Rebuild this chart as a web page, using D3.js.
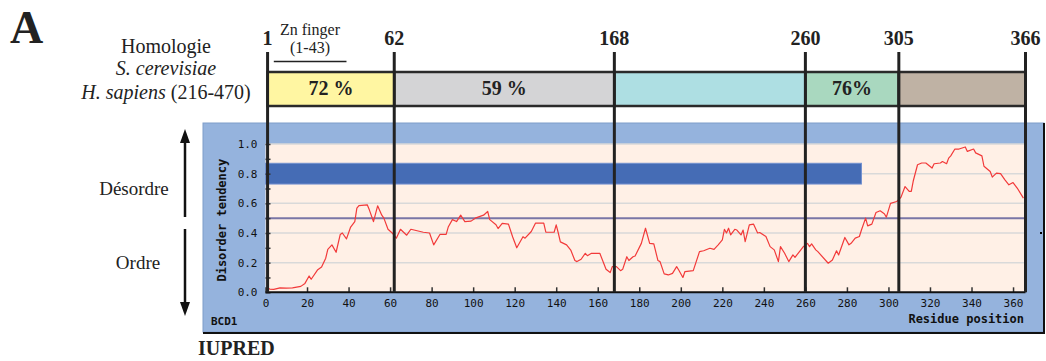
<!DOCTYPE html>
<html>
<head>
<meta charset="utf-8">
<script src="https://cdn.jsdelivr.net/npm/d3@7"></script>
<style>
  html, body { margin: 0; padding: 0; background: #fff; }
  svg { display: block; }
</style>
</head>
<body>
<div id="chart"></div>
<script>
// IUPred disorder profile
const residues = [1, 2, 4, 7, 10, 13, 17, 19, 21, 22, 25, 27, 29, 30, 32, 34, 36, 37, 39, 41,
  43, 44, 45, 49, 50, 52, 54, 56, 57, 59, 61, 63, 65, 68, 70, 76, 79, 81, 84, 87,
  88, 90, 92, 94, 96, 99, 101, 105, 107, 108, 111, 112, 114, 117, 119, 121, 124, 125, 128, 130,
  134, 135, 139, 140, 141, 142, 145, 147, 149, 150, 152, 154, 155, 157, 161, 164, 166, 167, 169, 171,
  172, 174, 175, 177, 178, 181, 183, 185, 187, 189, 190, 192, 194, 196, 198, 199, 201, 202, 206, 209,
  211, 214, 216, 218, 220, 221, 222, 223, 224, 226, 227, 229, 230, 231, 233, 235, 237, 238, 241, 243,
  245, 247, 248, 250, 252, 254, 255, 258, 259, 261, 262, 263, 265, 266, 271, 273, 275, 276, 279, 281,
  282, 284, 286, 287, 289, 290, 292, 294, 296, 298, 299, 301, 304, 306, 308, 310, 311, 312, 314, 316,
  318, 321, 322, 325, 326, 328, 329, 330, 332, 334, 337, 338, 341, 342, 345, 346, 349, 350, 352, 354,
  356, 358, 360, 362, 365];
const disorder = [0.03, 0.022, 0.02, 0.03, 0.028, 0.03, 0.04, 0.06, 0.11, 0.088, 0.15, 0.17, 0.23, 0.29, 0.32, 0.27, 0.39, 0.40, 0.36, 0.44,
  0.477, 0.567, 0.585, 0.59, 0.556, 0.477, 0.583, 0.52, 0.5, 0.425, 0.40, 0.365, 0.425, 0.385, 0.425, 0.405, 0.4, 0.32, 0.39, 0.39,
  0.44, 0.49, 0.477, 0.52, 0.477, 0.48, 0.5, 0.52, 0.545, 0.49, 0.455, 0.43, 0.465, 0.46, 0.375, 0.30, 0.375, 0.365, 0.41, 0.466,
  0.466, 0.405, 0.405, 0.455, 0.40, 0.34, 0.32, 0.285, 0.214, 0.207, 0.223, 0.263, 0.247, 0.263, 0.263, 0.155, 0.133, 0.173, 0.173, 0.146,
  0.155, 0.24, 0.214, 0.24, 0.245, 0.33, 0.432, 0.33, 0.326, 0.214, 0.207, 0.124, 0.117, 0.128, 0.173, 0.15, 0.10, 0.14, 0.146, 0.274,
  0.28, 0.297, 0.29, 0.32, 0.353, 0.425, 0.4, 0.432, 0.387, 0.425, 0.42, 0.387, 0.42, 0.342, 0.455, 0.46, 0.4, 0.403, 0.376, 0.308,
  0.286, 0.207, 0.308, 0.263, 0.207, 0.252, 0.236, 0.29, 0.308, 0.33, 0.308, 0.326, 0.286, 0.274, 0.196, 0.218, 0.28, 0.252, 0.37, 0.32,
  0.33, 0.365, 0.376, 0.42, 0.5, 0.448, 0.46, 0.538, 0.55, 0.53, 0.507, 0.6, 0.612, 0.64, 0.713, 0.68, 0.68, 0.754, 0.86, 0.872,
  0.872, 0.838, 0.867, 0.872, 0.882, 0.867, 0.905, 0.92, 0.966, 0.966, 0.98, 0.95, 0.966, 0.94, 0.92, 0.85, 0.815, 0.777, 0.804, 0.8,
  0.76, 0.725, 0.74, 0.703, 0.635];

// homology domains
const boundaries = [1, 62, 168, 260, 305, 366];
const homology = ["72 %", "59 %", "", "76%", ""];
const segColors = ["#fff6a2", "#d4d4d6", "#aedfe3", "#a9d8bf", "#bfb2a4"];

// blue bar (region 1-287, centred at 0.8) and threshold
const barRange = [1, 287];
const barValues = [0.73, 0.87];
const threshold = 0.5;

const xTicks = d3.range(0, 361, 20);
const yTicks = d3.range(0, 11).map(i => i / 10);
const yGrid = [0.2, 0.4, 0.6, 0.8, 1.0];

const width = 1046, height = 361;
const serif = "'Liberation Serif', 'Times New Roman', serif";
const mono = "'DejaVu Sans Mono', monospace";

const svg = d3.select("#chart").append("svg")
    .attr("width", width)
    .attr("height", height);

const x = d3.scaleLinear().domain([0, 366]).range([265.5, 1025.5]);
const y = d3.scaleLinear().domain([0, 1]).range([292.3, 144]);

// ---- IUPred panel ----
const panel = svg.append("g");
panel.append("rect")
    .attr("x", 203).attr("y", 123).attr("width", 841).attr("height", 209)
    .attr("fill", "#95b3dd").attr("stroke", "#7f9dca").attr("stroke-width", 1);
// dark edges right/bottom
panel.append("line").attr("x1", 1044).attr("x2", 1044).attr("y1", 123).attr("y2", 333)
    .attr("stroke", "#111").attr("stroke-width", 2);
panel.append("line").attr("x1", 203).attr("x2", 1045).attr("y1", 333).attr("y2", 333)
    .attr("stroke", "#111").attr("stroke-width", 2);

panel.append("rect")
    .attr("x", x(0)).attr("y", y(1))
    .attr("width", x(366) - x(0)).attr("height", y(0) - y(1))
    .attr("fill", "#fff0e6");

panel.selectAll(".grid").data(yGrid).enter().append("line")
    .attr("x1", x(0)).attr("x2", x(366))
    .attr("y1", d => y(d)).attr("y2", d => y(d))
    .attr("stroke", "#d9d9d9").attr("stroke-width", 1.5);

panel.append("rect")
    .attr("x", x(barRange[0] - 1)).attr("y", y(barValues[1]))
    .attr("width", x(barRange[1]) - x(barRange[0] - 1))
    .attr("height", y(barValues[0]) - y(barValues[1]))
    .attr("fill", "#456cb5").attr("stroke", "#7391cf").attr("stroke-width", 1);

panel.append("line")
    .attr("x1", x(0)).attr("x2", x(366))
    .attr("y1", y(threshold)).attr("y2", y(threshold))
    .attr("stroke", "#7a76a6").attr("stroke-width", 2);

const line = d3.line()
    .x((d, i) => x(residues[i]))
    .y(d => y(d));

panel.append("path")
    .datum(disorder)
    .attr("d", line)
    .attr("fill", "none")
    .attr("stroke", "#f23a3a")
    .attr("stroke-width", 1.2)
    .attr("stroke-linejoin", "round");

// axes
const xAxis = panel.append("g")
    .attr("transform", `translate(0,${y(0)})`)
    .call(d3.axisBottom(x).tickValues(xTicks).tickSizeInner(-5).tickSizeOuter(0).tickPadding(7));
const yAxis = panel.append("g")
    .attr("transform", `translate(${x(0)},0)`)
    .call(d3.axisLeft(y).tickValues(yTicks).tickSizeInner(-5).tickSizeOuter(0).tickPadding(8)
        .tickFormat(d => (Math.round(d * 10) % 2 === 0) ? d3.format(".1f")(d) : ""));
[xAxis, yAxis].forEach(a => {
    a.select(".domain").remove();
    a.selectAll(".tick line").attr("stroke", "#333").attr("stroke-width", 1.5);
    a.selectAll("text").attr("font-family", mono).attr("font-size", 11).attr("fill", "#111");
});

panel.append("line")
    .attr("x1", x(0)).attr("x2", x(366))
    .attr("y1", y(0)).attr("y2", y(0))
    .attr("stroke", "#111").attr("stroke-width", 2);

panel.append("text")
    .attr("transform", `translate(226,${(y(0) + y(1)) / 2 + 2}) rotate(-90)`)
    .attr("text-anchor", "middle")
    .attr("font-family", mono).attr("font-weight", "bold").attr("font-size", 12)
    .attr("fill", "#111")
    .text("Disorder tendency");

panel.append("text")
    .attr("x", 211).attr("y", 325)
    .attr("font-family", mono).attr("font-weight", "bold").attr("font-size", 11)
    .attr("fill", "#111")
    .text("BCD1");

panel.append("text")
    .attr("x", 1024).attr("y", 323)
    .attr("text-anchor", "end")
    .attr("font-family", mono).attr("font-weight", "bold").attr("font-size", 12)
    .attr("fill", "#111")
    .text("Residue position");

panel.append("rect")
    .attr("x", 1040).attr("y", 232).attr("width", 2).attr("height", 2)
    .attr("fill", "#000");

// ---- homology bar ----
const header = svg.append("g");
const segs = d3.range(boundaries.length - 1).map(i => ({
    start: boundaries[i], end: boundaries[i + 1], label: homology[i], color: segColors[i]
}));

header.selectAll(".seg").data(segs).enter().append("rect")
    .attr("x", d => x(d.start)).attr("y", 72)
    .attr("width", d => x(d.end) - x(d.start)).attr("height", 34)
    .attr("fill", d => d.color)
    .attr("stroke", "#2a2a2a").attr("stroke-width", 2.5);

header.selectAll(".seglabel").data(segs).enter().append("text")
    .attr("x", d => (x(d.start) + x(d.end)) / 2)
    .attr("y", 95)
    .attr("text-anchor", "middle")
    .attr("font-family", serif).attr("font-weight", "bold").attr("font-size", 20)
    .attr("fill", "#222")
    .text(d => d.label);

header.selectAll(".bound").data(boundaries).enter().append("line")
    .attr("x1", d => x(d)).attr("x2", d => x(d))
    .attr("y1", 52).attr("y2", y(0))
    .attr("stroke", "#222").attr("stroke-width", 3);

header.selectAll(".boundlabel").data(boundaries).enter().append("text")
    .attr("x", d => x(d))
    .attr("y", 45)
    .attr("text-anchor", "middle")
    .attr("font-family", serif).attr("font-weight", "bold").attr("font-size", 20)
    .attr("fill", "#222")
    .text(d => d);

header.append("text").attr("x", 310).attr("y", 35).attr("text-anchor", "middle")
    .attr("font-family", serif).attr("font-size", 16).attr("fill", "#222").text("Zn finger");
header.append("text").attr("x", 310).attr("y", 53).attr("text-anchor", "middle")
    .attr("font-family", serif).attr("font-size", 16).attr("fill", "#222").text("(1-43)");
header.append("line").attr("x1", x(4)).attr("x2", x(39)).attr("y1", 61.5).attr("y2", 61.5)
    .attr("stroke", "#222").attr("stroke-width", 1.5);

// ---- left-hand labels ----
const left = svg.append("g").attr("font-family", serif).attr("fill", "#222");
left.append("text").attr("x", 10).attr("y", 43)
    .attr("font-size", 46).attr("font-weight", "bold").text("A");
left.append("text").attr("x", 166).attr("y", 53).attr("text-anchor", "middle")
    .attr("font-size", 20).text("Homologie");
left.append("text").attr("x", 166).attr("y", 75).attr("text-anchor", "middle")
    .attr("font-size", 20).attr("font-style", "italic").text("S. cerevisiae");
const hs = left.append("text").attr("x", 166).attr("y", 99).attr("text-anchor", "middle")
    .attr("font-size", 20);
hs.append("tspan").attr("font-style", "italic").text("H. sapiens");
hs.append("tspan").text(" (216-470)");

left.append("text").attr("x", 134).attr("y", 195).attr("text-anchor", "middle")
    .attr("font-size", 19).text("Désordre");
left.append("text").attr("x", 138).attr("y", 269).attr("text-anchor", "middle")
    .attr("font-size", 19).text("Ordre");
left.append("text").attr("x", 198).attr("y", 355)
    .attr("font-size", 20).attr("font-weight", "bold").text("IUPRED");

// arrows
const arrows = svg.append("g").attr("stroke", "#111").attr("fill", "#111");
arrows.append("line").attr("x1", 185).attr("x2", 185).attr("y1", 140).attr("y2", 217).attr("stroke-width", 2.5);
arrows.append("path").attr("d", "M185,129 L180,143 L190,143 Z").attr("stroke", "none");
arrows.append("line").attr("x1", 185).attr("x2", 185).attr("y1", 229).attr("y2", 304).attr("stroke-width", 2.5);
arrows.append("path").attr("d", "M185,316 L180,302 L190,302 Z").attr("stroke", "none");
</script>
</body>
</html>
